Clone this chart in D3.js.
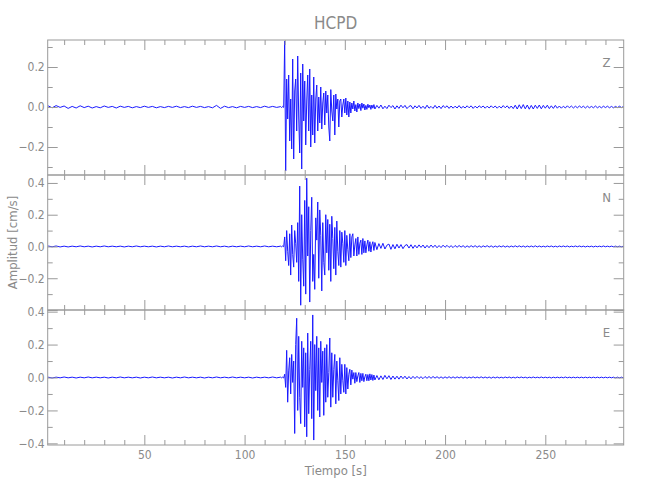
<!DOCTYPE html>
<html>
<head>
<meta charset="utf-8">
<script src="https://cdn.jsdelivr.net/npm/d3@7"></script>
<style>
  html, body { margin: 0; padding: 0; background: #fff; }
  svg text { font-family: "Liberation Sans Narrow", "DejaVu Sans Condensed", "Roboto Condensed", Roboto, sans-serif; font-weight: 300; fill: #8a8a8a; }
</style>
</head>
<body>
<svg id="chart" width="650" height="500"></svg>
<script>
// ---------------- data ----------------
const title = "HCPD";
const components = ["Z", "N", "E"];
const xLabel = "Tiempo [s]";
const yLabel = "Amplitud [cm/s]";
const xDomain = [1.8, 289.1];
const yDomainZ = [-0.34, 0.335];
const yDomainN = [-0.4, 0.45];
const yDomainE = [-0.41, 0.41];
const yLabelsZ = [-0.2, 0, 0.2];
const yLabelsN = [-0.2, 0, 0.2, 0.4];
const yLabelsE = [-0.4, -0.2, 0, 0.2, 0.4];
const xMajorTicks = [50, 100, 150, 200, 250];
const xMinorTicks = [10, 20, 30, 40, 60, 70, 80, 90, 110, 120, 130, 140, 160, 170, 180, 190, 210, 220, 230, 240, 260, 270, 280];

// sample timing of each stored segment (s)
const preStart = 2, preStep = 2;      // 2 ... 116
const mainStart = 118, mainStep = 0.5; // 118 ... 165
const postStart = 166, postStep = 1;  // 166 ... 289

// Z component (cm/s)
const zPre = [0.006,-0.004,0.007,-0.002,0.005,-0.007,0.003,-0.005,0.006,-0.003,
  0.004,-0.005,0.002,-0.004,0.005,-0.002,0.003,-0.005,0.004,-0.002,
  0.003,-0.004,0.002,-0.003,0.004,-0.002,0.003,-0.004,0.002,-0.003,
  0.003,-0.002,0.004,-0.003,0.002,-0.003,0.004,-0.002,0.003,-0.003,
  0.002,-0.004,0.008,-0.007,0.004,-0.003,0.002,-0.004,0.003,-0.002,
  0.003,-0.003,0.002,-0.003,0.004,-0.002,0.003,-0.002];
const zMain = [0.002,-0.003,0.003,-0.002,0.33,-0.32,0.14,-0.06,0.16,-0.17,
  0.04,-0.21,0.24,-0.26,0.08,0.14,-0.12,0.255,-0.05,-0.23,
  0.17,-0.31,0.215,-0.07,0.13,-0.19,0.03,0.16,-0.12,0.19,
  -0.2,0.06,-0.14,0.15,-0.18,0.04,0.11,-0.12,0.05,-0.08,
  0.1,-0.11,0.02,0.07,-0.09,0.08,-0.03,0.06,-0.1,-0.17,
  0.087,-0.02,-0.07,0.06,-0.14,0.065,-0.01,0.04,-0.1,0.03,
  0.04,-0.05,0.01,0.04,-0.03,0.045,-0.04,0.03,-0.05,0.025,
  -0.03,0.02,-0.01,0.03,-0.02,0.012,-0.025,0.02,-0.008,0.015,
  -0.018,0.02,-0.006,0.015,-0.015,0.008,-0.012,0.014,-0.004,0.01,
  -0.012,0.01,-0.006,0.012,-0.01];
const zPost = [0.008,-0.006,0.01,-0.009,0.004,-0.008,0.009,-0.003,0.007,-0.01,
  0.006,-0.007,0.009,-0.004,0.008,-0.008,0.003,0.007,-0.009,0.006,
  -0.005,0.008,-0.007,0.004,-0.008,0.009,-0.006,0.003,-0.007,0.008,
  -0.006,0.005,-0.008,0.007,-0.003,0.006,-0.007,0.005,-0.006,0.004,
  -0.005,0.007,-0.006,0.003,-0.005,0.006,-0.004,0.006,-0.007,0.004,
  -0.005,0.006,-0.003,0.005,-0.006,0.004,-0.005,0.006,-0.004,0.005,
  -0.006,0.004,-0.005,0.007,-0.004,0.006,-0.007,0.005,-0.008,0.009,
  -0.01,0.011,-0.008,0.012,-0.009,0.01,-0.011,0.008,-0.01,0.009,
  -0.007,0.01,-0.009,0.008,-0.006,0.009,-0.008,0.006,-0.007,0.008,
  -0.006,0.005,-0.006,0.004,-0.005,0.006,-0.004,0.005,-0.005,0.004,
  -0.004,0.005,-0.003,0.004,-0.005,0.004,-0.004,0.003,-0.004,0.005,
  -0.004,0.003,-0.004,0.004,-0.003,0.004,-0.004,0.003,-0.004,0.003,
  -0.003,0.004,-0.003,0.003];

// N component (cm/s)
const nPre = [0.003,-0.002,0.003,-0.003,0.002,-0.003,0.002,-0.002,0.003,-0.002,
  0.002,-0.003,0.002,-0.002,0.003,-0.002,0.002,-0.002,0.002,-0.003,
  0.002,-0.002,0.003,-0.002,0.002,-0.002,0.002,-0.003,0.002,-0.002,
  0.003,-0.002,0.002,-0.002,0.002,-0.003,0.002,-0.002,0.003,-0.002,
  0.002,-0.002,0.003,-0.002,0.002,-0.003,0.002,-0.002,0.002,-0.002,
  0.003,-0.002,0.002,-0.002,0.003,-0.002,0.002,-0.002];
const nMain = [0.002,-0.002,0.003,-0.002,0.06,-0.09,0.1,-0.03,-0.12,0.08,
  -0.18,0.135,-0.05,-0.13,0.1,0.02,-0.1,0.15,-0.22,0.38,
  -0.37,0.2,-0.08,-0.25,0.29,-0.3,0.43,-0.06,0.25,-0.35,
  0.1,0.31,-0.22,-0.05,-0.27,0.18,0.04,0.28,-0.2,0.23,
  0.07,-0.28,0.15,-0.1,-0.18,0.2,-0.04,0.17,-0.15,0.14,
  -0.22,0.19,0.05,-0.14,0.12,-0.18,0.16,-0.03,-0.12,0.1,
  -0.13,0.09,0.02,-0.1,0.1,-0.12,0.07,-0.02,-0.09,0.08,
  -0.07,0.06,0.08,-0.06,0.01,0.05,-0.06,0.06,-0.05,0.02,
  0.04,-0.05,0.05,-0.04,0.035,-0.04,0.01,0.04,-0.03,0.03,
  -0.035,0.01,0.03,-0.025,0.025];
const nPost = [-0.02,0.018,-0.012,0.02,-0.016,0.008,0.015,-0.018,0.012,-0.015,
  0.014,-0.01,0.012,-0.014,0.006,0.012,-0.01,0.011,-0.012,0.008,
  -0.009,0.01,-0.006,0.009,-0.01,0.007,-0.008,0.009,-0.006,0.008,
  -0.008,0.006,-0.007,0.008,-0.005,0.007,-0.006,0.005,-0.007,0.006,
  -0.005,0.006,-0.004,0.005,-0.006,0.004,-0.005,0.005,-0.004,0.005,
  -0.005,0.004,-0.005,0.004,-0.003,0.005,-0.004,0.004,-0.005,0.003,
  -0.004,0.004,-0.003,0.004,-0.004,0.003,-0.004,0.003,-0.003,0.004,
  -0.003,0.004,-0.003,0.003,-0.004,0.003,-0.003,0.003,-0.003,0.004,
  -0.003,0.003,-0.003,0.002,-0.003,0.003,-0.002,0.003,-0.003,0.002,
  -0.003,0.003,-0.002,0.003,-0.002,0.003,-0.003,0.002,-0.002,0.003,
  -0.002,0.003,-0.002,0.002,-0.003,0.002,-0.002,0.002,-0.003,0.002,
  -0.002,0.002,-0.002,0.003,-0.002,0.002,-0.002,0.002,-0.002,0.002,
  -0.002,0.002,-0.002,0.002];

// E component (cm/s)
const ePre = [0.002,-0.003,0.002,-0.002,0.003,-0.002,0.002,-0.003,0.002,-0.002,
  0.003,-0.002,0.002,-0.002,0.002,-0.003,0.002,-0.002,0.003,-0.002,
  0.002,-0.002,0.002,-0.003,0.002,-0.002,0.003,-0.002,0.002,-0.002,
  0.002,-0.003,0.002,-0.002,0.003,-0.002,0.002,-0.002,0.002,-0.003,
  0.002,-0.002,0.003,-0.002,0.002,-0.002,0.003,-0.002,0.002,-0.002,
  0.002,-0.003,0.002,-0.002,0.002,-0.002,0.003,-0.002];
const eMain = [0.002,-0.002,0.002,-0.003,0.02,-0.06,0.165,-0.15,0.04,0.12,
  -0.1,0.14,-0.03,0.1,-0.34,0.2,0.36,-0.2,0.25,-0.12,
  -0.28,0.22,-0.06,0.18,-0.3,0.15,-0.36,0.27,-0.22,0.05,
  0.22,-0.25,0.38,-0.38,0.2,-0.08,0.25,-0.2,0.18,-0.24,
  0.22,-0.03,0.16,-0.23,0.18,-0.15,0.2,-0.12,0.03,0.24,
  -0.18,0.15,-0.12,0.05,0.14,-0.16,0.1,-0.02,-0.14,0.12,
  -0.1,0.08,-0.02,-0.09,0.08,-0.1,0.06,-0.07,0.02,0.05,
  -0.045,0.045,-0.01,0.03,-0.035,0.03,-0.025,0.01,0.03,-0.03,
  0.025,-0.02,0.025,-0.025,0.005,0.02,-0.02,0.018,-0.02,0.022,
  -0.015,0.018,-0.018,0.015,-0.015];
const ePost = [0.012,-0.014,0.01,-0.012,0.013,-0.008,0.011,-0.012,0.009,-0.01,
  0.008,-0.01,0.009,-0.007,0.008,-0.009,0.006,-0.008,0.007,-0.006,
  0.007,-0.006,0.005,-0.007,0.006,-0.005,0.006,-0.005,0.006,-0.004,
  0.005,-0.005,0.004,-0.005,0.004,-0.004,0.005,-0.004,0.004,-0.004,
  0.004,-0.003,0.004,-0.004,0.003,-0.004,0.003,-0.003,0.004,-0.003,
  0.003,-0.003,0.004,-0.003,0.003,-0.003,0.003,-0.004,0.003,-0.003,
  0.003,-0.003,0.002,-0.003,0.003,-0.002,0.003,-0.003,0.002,-0.003,
  0.003,-0.002,0.003,-0.002,0.002,-0.003,0.002,-0.002,0.003,-0.002,
  0.002,-0.002,0.003,-0.002,0.002,-0.002,0.002,-0.003,0.002,-0.002,
  0.002,-0.002,0.002,-0.002,0.003,-0.002,0.002,-0.002,0.002,-0.002,
  0.002,-0.002,0.002,-0.002,0.002,-0.002,0.002,-0.002,0.002,-0.002,
  0.002,-0.002,0.002,-0.002,0.002,-0.002,0.002,-0.002,0.002,-0.002,
  0.002,-0.002,0.002,-0.002];

// ---------------- build ----------------
function seg(values, start, step) { return values.map((v, i) => ({ t: start + i * step, v })); }
function trace(pre, main, post) {
  return seg(pre, preStart, preStep).concat(seg(main, mainStart, mainStep), seg(post, postStart, postStep));
}
const panels = [
  { name: components[0], domain: yDomainZ, labels: yLabelsZ, data: trace(zPre, zMain, zPost) },
  { name: components[1], domain: yDomainN, labels: yLabelsN, data: trace(nPre, nMain, nPost) },
  { name: components[2], domain: yDomainE, labels: yLabelsE, data: trace(ePre, eMain, ePost) }
];

const svg = d3.select("#chart");
const left = 47.7, right = 623.7, top0 = 40, panelH = 135;
const axisColor = "#9a9a9a";
const x = d3.scaleLinear().domain(xDomain).range([left, right]);
const fmt = d3.format(".1f");

svg.append("text").attr("x", (left + right) / 2).attr("y", 29)
  .attr("text-anchor", "middle").style("font-size", "17px").text(title);

panels.forEach((p, k) => {
  const y0 = top0 + k * panelH, y1 = y0 + panelH;
  const y = d3.scaleLinear().domain(p.domain).range([y1, y0]);
  const g = svg.append("g");
  const clipId = "clip" + k;
  svg.append("clipPath").attr("id", clipId).append("rect")
    .attr("x", left).attr("y", y0).attr("width", right - left).attr("height", panelH);

  const line = d3.line().x(d => x(d.t)).y(d => y(d.v));
  g.append("path").datum(p.data).attr("d", line)
    .attr("clip-path", `url(#${clipId})`)
    .attr("fill", "none").attr("stroke", "#1a1aff").attr("stroke-width", 1.0)
    .attr("stroke-linejoin", "bevel");

  // frame
  g.append("rect").attr("x", left).attr("y", y0).attr("width", right - left).attr("height", panelH)
    .attr("fill", "none").attr("stroke", axisColor).attr("stroke-width", 1);

  const yMinor = [-0.3, -0.1, 0.1, 0.3].filter(v => v >= p.domain[0] && v <= p.domain[1]);
  const yMajor = [-0.4, -0.2, 0, 0.2, 0.4].filter(v => v >= p.domain[0] - 0.011 && v <= p.domain[1]);
  const styleAxis = sel => {
    sel.select(".domain").remove();
    sel.selectAll("line").attr("stroke", axisColor);
    sel.selectAll("text").style("font-size", "12px").attr("fill", "#8a8a8a");
  };

  const isLast = k === panels.length - 1;
  svg.append("g").attr("transform", `translate(0,${y1})`)
    .call(d3.axisBottom(x).tickValues(xMajorTicks).tickSize(-10).tickPadding(5)
      .tickFormat(isLast ? d3.format("d") : ""))
    .call(styleAxis);
  svg.append("g").attr("transform", `translate(0,${y1})`)
    .call(d3.axisBottom(x).tickValues(xMinorTicks).tickSize(-5).tickFormat(""))
    .call(styleAxis);
  svg.append("g").attr("transform", `translate(0,${y0})`)
    .call(d3.axisTop(x).tickValues(xMajorTicks).tickSize(-10).tickFormat(""))
    .call(styleAxis);
  svg.append("g").attr("transform", `translate(0,${y0})`)
    .call(d3.axisTop(x).tickValues(xMinorTicks).tickSize(-5).tickFormat(""))
    .call(styleAxis);

  svg.append("g").attr("transform", `translate(${left},0)`)
    .call(d3.axisLeft(y).tickValues(yMajor).tickSize(-10).tickPadding(3)
      .tickFormat(v => p.labels.some(l => Math.abs(l - v) < 1e-9) ? fmt(v) : ""))
    .call(styleAxis);
  svg.append("g").attr("transform", `translate(${left},0)`)
    .call(d3.axisLeft(y).tickValues(yMinor).tickSize(-5).tickFormat(""))
    .call(styleAxis);
  svg.append("g").attr("transform", `translate(${right},0)`)
    .call(d3.axisRight(y).tickValues(yMajor).tickSize(-10).tickFormat(""))
    .call(styleAxis);
  svg.append("g").attr("transform", `translate(${right},0)`)
    .call(d3.axisRight(y).tickValues(yMinor).tickSize(-5).tickFormat(""))
    .call(styleAxis);

  svg.append("text").attr("x", 606.5).attr("y", y0 + 27)
    .attr("text-anchor", "middle").style("font-size", "13px").text(p.name);
});

svg.append("text").attr("x", (left + right) / 2).attr("y", 475)
  .attr("text-anchor", "middle").style("font-size", "13px").text(xLabel);
svg.append("text").attr("transform", `translate(17,${top0 + 1.5 * panelH}) rotate(-90)`)
  .attr("text-anchor", "middle").style("font-size", "13px").text(yLabel);
</script>
</body>
</html>
